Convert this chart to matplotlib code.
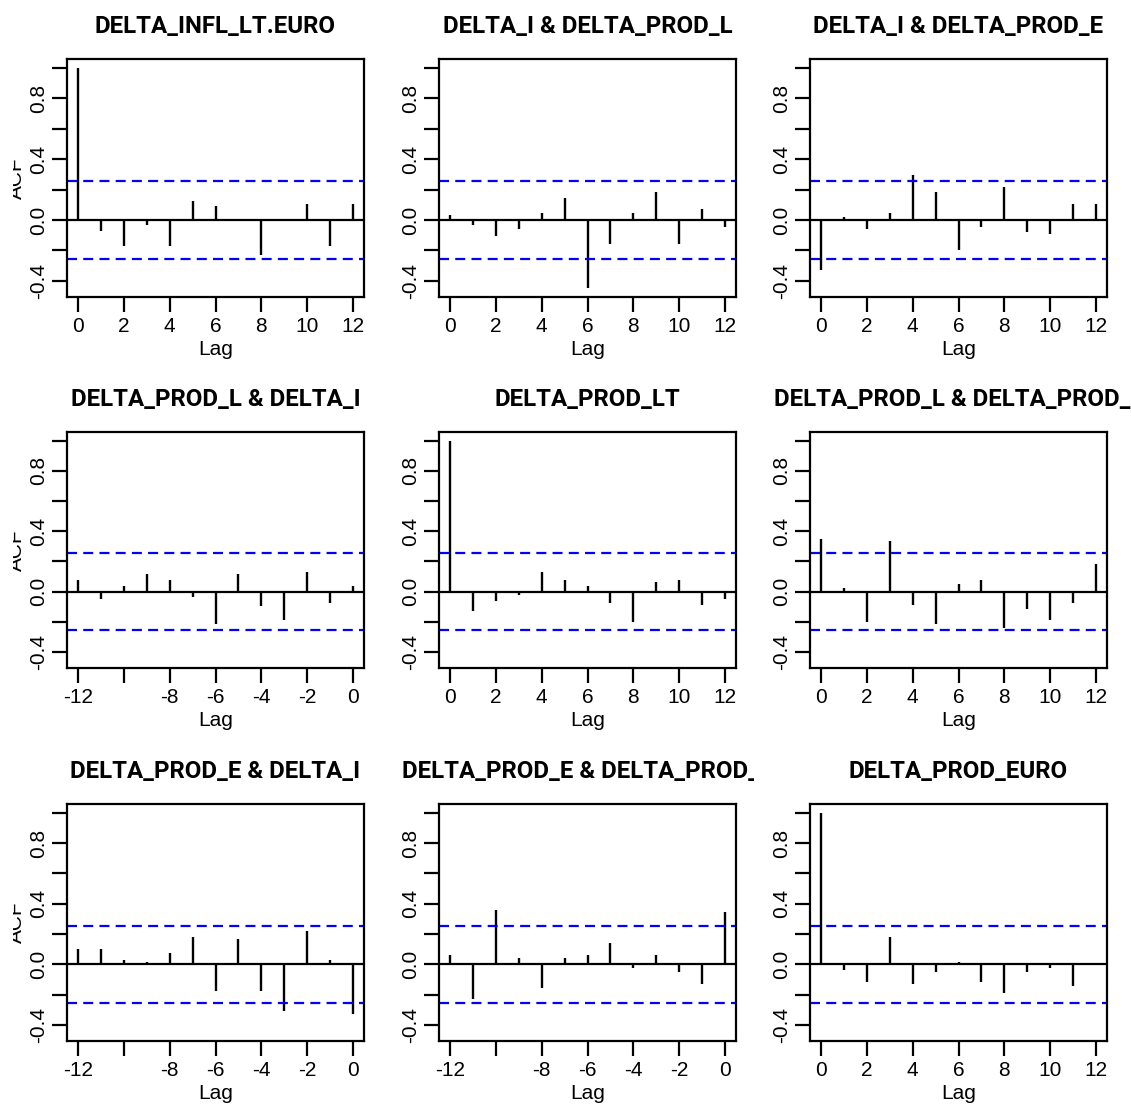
import matplotlib
matplotlib.use('Agg')
import matplotlib.pyplot as plt
from matplotlib.transforms import Bbox, TransformedBbox

plt.rcParams['font.family'] = ['Liberation Sans', 'DejaVu Sans']

# acf values, panels in row order
titles = ['DELTA_INFL_LT.EURO', 'DELTA_I & DELTA_PROD_L', 'DELTA_I & DELTA_PROD_E',
          'DELTA_PROD_L & DELTA_I', 'DELTA_PROD_LT', 'DELTA_PROD_L & DELTA_PROD_E',
          'DELTA_PROD_E & DELTA_I', 'DELTA_PROD_E & DELTA_PROD_L', 'DELTA_PROD_EURO']

pos_lags = list(range(0, 13))
neg_lags = list(range(-12, 1))

acf_11 = [1.0, -0.072, -0.17, -0.033, -0.17, 0.128, 0.089, 0.005, -0.228, 0.003, 0.102, -0.17, 0.102]
acf_12 = [0.033, -0.033, -0.104, -0.061, 0.048, 0.143, -0.448, -0.159, 0.048, 0.183, -0.159, 0.074, -0.048]
acf_13 = [-0.326, 0.02, -0.061, 0.048, 0.296, 0.185, -0.2, -0.048, 0.215, -0.076, -0.089, 0.102, 0.102]
acf_21 = [0.076, -0.05, 0.035, 0.117, 0.076, -0.035, -0.213, 0.117, -0.093, -0.185, 0.13, -0.074, 0.035]
acf_22 = [1.0, -0.13, -0.061, -0.022, 0.13, 0.076, 0.035, -0.074, -0.2, 0.063, 0.076, -0.089, -0.048]
acf_23 = [0.352, 0.022, -0.2, 0.337, -0.089, -0.213, 0.048, 0.076, -0.241, -0.117, -0.185, -0.074, 0.185]
acf_31 = [0.099, 0.099, 0.03, 0.017, 0.073, 0.181, -0.173, 0.168, -0.173, -0.311, 0.222, 0.03, -0.326]
acf_32 = [0.06, -0.227, 0.358, 0.045, -0.158, 0.045, 0.06, 0.14, -0.026, 0.06, -0.052, -0.132, 0.346]
acf_33 = [1.0, -0.037, -0.117, 0.181, -0.132, -0.052, 0.017, -0.117, -0.186, -0.052, -0.026, -0.145, 0.003]

values = [acf_11, acf_12, acf_13, acf_21, acf_22, acf_23, acf_31, acf_32, acf_33]
negative = [False, False, False, True, False, False, True, True, False]

clim = 0.255
y_ticks = [-0.4, -0.2, 0.0, 0.2, 0.4, 0.6, 0.8, 1.0]
y_labels = ['-0.4', '', '0.0', '', '0.4', '', '0.8', '']


def main():
    W, H = 1131, 1111
    fig = plt.figure(figsize=(W / 100, H / 100), dpi=100)

    lefts = [67, 439, 810]
    tops = [59, 432, 804]
    bottoms = [297, 668, 1041]
    box_w = 297

    for i in range(9):
        r, c = divmod(i, 3)
        ax = fig.add_axes([lefts[c] / W, 1 - bottoms[r] / H,
                           box_w / W, (bottoms[r] - tops[r]) / H])
        if negative[i]:
            lags = neg_lags
            ax.set_xlim(-12.48, 0.48)
            ax.set_xticks(range(-12, 1, 2))
            ax.set_xticklabels(['-12', '', '-8', '-6', '-4', '-2', '0'])
        else:
            lags = pos_lags
            ax.set_xlim(-0.48, 12.48)
            ax.set_xticks(range(0, 13, 2))
        ax.set_ylim(-0.506, 1.058)

        ax.vlines(lags, 0, values[i], color='black', lw=1.7)
        ax.axhline(0, color='black', lw=1.6)
        for h in (clim, -clim):
            ax.axhline(h, color='blue', lw=1.6, ls=(0, (4.5, 2.8)))

        ax.set_yticks(y_ticks)
        ax.set_yticklabels(y_labels, rotation=90, va='center')
        ax.tick_params(direction='out', length=10.5, width=1.6, labelsize=15,
                       color='black', pad=3)
        ax.tick_params(axis='x', pad=4)
        for s in ax.spines.values():
            s.set_linewidth(1.6)
        ax.set_xlabel('Lag', fontsize=15, labelpad=3)

        # titles are clipped to their own third of the figure, as in the original
        t = ax.set_title(titles[i], fontsize=17.3, fontweight='bold',
                         family='Roboto', pad=19)
        region = TransformedBbox(Bbox.from_extents(c * 377 / W, 0, (c + 1) * 377 / W, 1),
                                 fig.transFigure)
        t.set_clip_box(region)
        t.set_clip_on(True)

        if c == 0:
            yc = 1 - (tops[r] + bottoms[r]) / 2 / H
            lab = fig.text(16 / W, yc, 'ACF', rotation=90, fontsize=15,
                           ha='center', va='center')
            lab.set_clip_box(TransformedBbox(Bbox.from_extents(12.5 / W, 0, 1, 1),
                                             fig.transFigure))
            lab.set_clip_on(True)

    fig.savefig('out.png', dpi=100)


if __name__ == '__main__':
    main()
